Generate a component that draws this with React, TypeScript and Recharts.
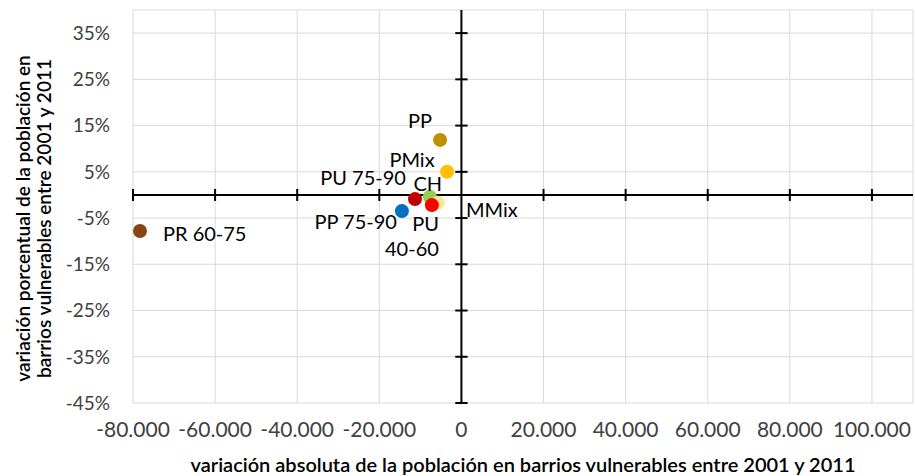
import { ScatterChart, Scatter, XAxis, YAxis, CartesianGrid, ReferenceLine } from 'recharts'

// barrios vulnerables: variación absoluta (x) y porcentual (y) 2001-2011
const groups = ['PR 60-75', 'PP', 'PMix', 'CH', 'MMix', 'PU 40-60', 'PU 75-90', 'PP 75-90']
const absChange = [-78300, -5200, -3500, -7700, -5700, -7200, -11300, -14500]
const pctChange = [-0.078, 0.119, 0.05, -0.004, -0.017, -0.022, -0.009, -0.035]
const colors = ['#8b4513', '#bf9000', '#ffc000', '#92d050', '#ffe699', '#ff0000', '#c00000', '#0070c0']

const xTicks = [-80000, -60000, -40000, -20000, 0, 20000, 40000, 60000, 80000, 100000]
const yTicks = [-0.45, -0.35, -0.25, -0.15, -0.05, 0.05, 0.15, 0.25, 0.35]

const FONT = 'Lato, "DejaVu Sans", sans-serif'

// where each data label sits relative to its dot (px)
const labelPos: Record<string, { dx: number; dy: number; anchor: string; lines: string[] }> = {
  'PR 60-75': { dx: 23, dy: 2, anchor: 'start', lines: ['PR 60-75'] },
  'PP': { dx: -20, dy: -20, anchor: 'middle', lines: ['PP'] },
  'PMix': { dx: -35, dy: -13, anchor: 'middle', lines: ['PMix'] },
  'CH': { dx: -2, dy: -14, anchor: 'middle', lines: ['CH'] },
  'MMix': { dx: 28, dy: 6, anchor: 'start', lines: ['MMix'] },
  'PU 40-60': { dx: 7, dy: 18, anchor: 'end', lines: ['PU', '40-60'] },
  'PU 75-90': { dx: -52, dy: -22, anchor: 'middle', lines: ['PU 75-90'] },
  'PP 75-90': { dx: -5, dy: 10, anchor: 'end', lines: ['PP 75-90'] },
}

const data = groups.map((g, i) => ({ name: g, x: absChange[i], y: pctChange[i], color: colors[i] }))

const fmtThousands = (v: number) => {
  const s = Math.abs(v).toString().replace(/\B(?=(\d{3})+(?!\d))/g, '.')
  return (v < 0 ? '-' : '') + s
}
const fmtPct = (v: number) => `${Math.round(v * 100)}%`

const Dot = (props: any) => {
  const { cx, cy, payload } = props
  const lp = labelPos[payload.name]
  return (
    <g>
      <circle cx={cx} cy={cy} r={7} fill={payload.color} />
      {lp.lines.map((line, i) => (
        <text
          key={i}
          x={cx + lp.dx}
          y={cy + lp.dy + i * 25}
          textAnchor={lp.anchor as any}
          dominantBaseline="central"
          fontSize={20}
          fontFamily={FONT}
          fill="#000"
        >
          {line}
        </text>
      ))}
    </g>
  )
}

const YTitle = (props: any) => {
  const { viewBox } = props
  const cy = viewBox.y + viewBox.height / 2 + 12
  return (
    <text
      transform={`rotate(-90, 34, ${cy})`}
      x={34}
      y={cy}
      textAnchor="middle"
      fontSize={19}
      fontWeight={600}
      fontFamily={FONT}
      fill="#000"
    >
      <tspan x={34} dy={-4}>variación porcentual de la población en</tspan>
      <tspan x={34} dy={21}>barrios vulnerables entre 2001 y 2011</tspan>
    </text>
  )
}

export default function App() {
  return (
    <div style={{ position: 'absolute', left: 0, top: 0, width: 915, height: 476, background: '#fff' }}>
      <ScatterChart width={915} height={476} margin={{ top: 10, right: 2, bottom: 0, left: 0 }}>
        <CartesianGrid stroke="#d9d9d9" />
        <XAxis
          type="number"
          dataKey="x"
          domain={[-80000, 110000]}
          ticks={xTicks}
          tickFormatter={fmtThousands}
          axisLine={false}
          tickLine={false}
          height={73}
          tickMargin={13}
          tick={{ fill: '#404040', fontSize: 21, fontFamily: FONT }}
          label={{
            value: 'variación absoluta de la población en barrios vulnerables entre 2001 y 2011',
            position: 'insideBottom',
            offset: 4,
            fill: '#000',
            fontSize: 20,
            fontWeight: 600,
            fontFamily: FONT,
          }}
          interval={0}
        />
        <YAxis
          type="number"
          dataKey="y"
          domain={[-0.45, 0.4]}
          ticks={yTicks}
          tickFormatter={fmtPct}
          axisLine={false}
          tickLine={false}
          width={133}
          tickMargin={17}
          tick={{ fill: '#404040', fontSize: 19, fontFamily: FONT }}
          label={<YTitle />}
          interval={0}
        />
        <ReferenceLine y={0} stroke="#000" strokeWidth={2} />
        <ReferenceLine x={0} stroke="#000" strokeWidth={2} />
        {yTicks.map((v) => (
          <ReferenceLine key={'yt' + v} segment={[{ x: -1500, y: v }, { x: 1500, y: v }]} stroke="#000" strokeWidth={2} />
        ))}
        {xTicks.filter((v) => v !== 0).map((v) => (
          <ReferenceLine key={'xt' + v} segment={[{ x: v, y: -0.013 }, { x: v, y: 0.013 }]} stroke="#000" strokeWidth={2} />
        ))}
        <Scatter data={data} shape={<Dot />} isAnimationActive={false} />
      </ScatterChart>
    </div>
  )
}
